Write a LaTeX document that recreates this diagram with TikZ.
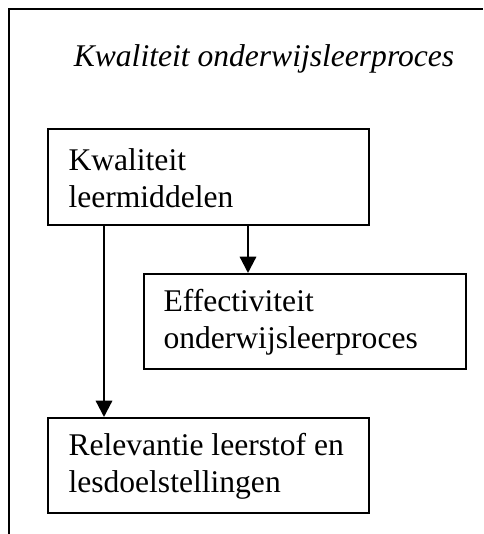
\documentclass[tikz,border=0pt]{standalone}
\usepackage{fontspec}
\setmainfont{Liberation Serif}
\usetikzlibrary{arrows.meta}
\newdimen\px \px=0.38pt
\tikzset{
  box/.style={draw, line width=0.7pt, anchor=north west, inner sep=0pt},
  lbl/.style={anchor=west, align=left, inner sep=0pt, font=\fontsize{12}{14}\selectfont},
  arr/.style={line width=0.85pt, -{Triangle[length=6.2pt,width=6.2pt]}},
  frame/.style={line width=0.9pt}
}
\begin{document}
\begin{tikzpicture}[x=\px,y=-\px]
\useasboundingbox (0,0) rectangle (483,534);
\coordinate (fb) at (9,534);
\coordinate (ftl) at (9,9);
\coordinate (fr) at (483,9);
\draw[frame] (fb) -- (ftl) -- (fr);
\node[anchor=base, font=\fontsize{12}{14}\selectfont\itshape] (title) at (264,67) {Kwaliteit onderwijsleerproces};
\node[box, minimum width=321*\px, minimum height=96*\px] (a) at (47,128) {};
\node[box, minimum width=322*\px, minimum height=95*\px] (b) at (143,273) {};
\node[box, minimum width=321*\px, minimum height=95*\px] (c) at (47,417) {};
\node[lbl] (ta) at ([xshift=21*\px,yshift=-1*\px]a.west) {Kwaliteit\\leermiddelen};
\node[lbl] (tb) at ([xshift=20*\px,yshift=-1*\px]b.west) {Effectiviteit\\onderwijsleerproces};
\node[lbl] (tc) at ([xshift=21*\px,yshift=-1*\px]c.west) {Relevantie leerstof en\\lesdoelstellingen};
\draw[arr] (a.south west) ++(57,0) coordinate (a1) -- (a1 |- c.north);
\draw[arr] (a.south west) ++(201,0) coordinate (a2) -- (a2 |- b.north);
\end{tikzpicture}
\end{document}
